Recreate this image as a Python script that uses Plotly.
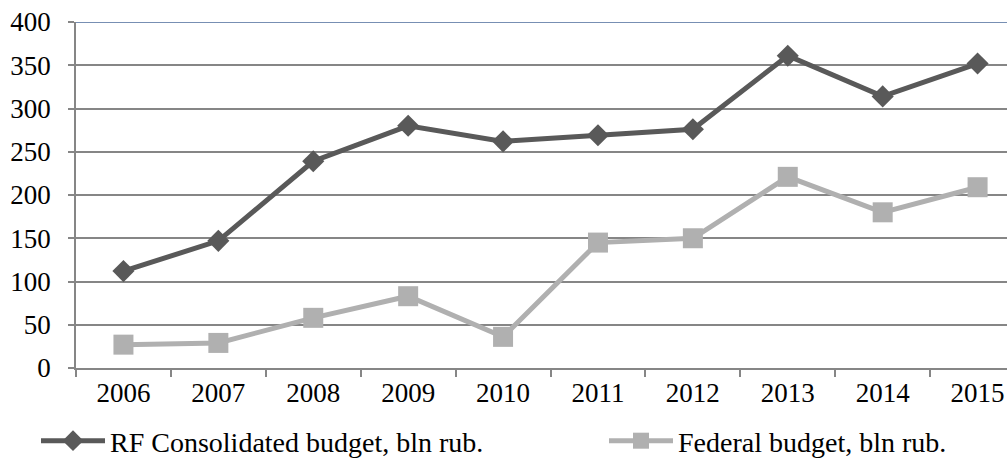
import plotly.graph_objects as go

years = ["2006", "2007", "2008", "2009", "2010", "2011", "2012", "2013", "2014", "2015"]
consolidated = [112, 147, 239, 280, 262, 269, 276, 361, 314, 352]
federal = [27, 29, 58, 83, 36, 145, 150, 221, 180, 209]
y_ticks = [0, 50, 100, 150, 200, 250, 300, 350, 400]

FONT = "Liberation Serif"

fig = go.Figure()
fig.add_trace(go.Scatter(
    x=years, y=consolidated, name="RF Consolidated budget, bln rub.",
    mode="lines+markers",
    line=dict(color="#595959", width=5),
    marker=dict(symbol="diamond", size=17, color="#595959"),
    legend="legend",
))
fig.add_trace(go.Scatter(
    x=years, y=federal, name="Federal budget, bln rub.",
    mode="lines+markers",
    line=dict(color="#b0b0b0", width=5),
    marker=dict(symbol="square", size=20, color="#b0b0b0"),
    legend="legend2",
))

fig.add_shape(type="line", xref="paper", yref="y", x0=0, x1=1, y0=400, y1=400,
              line=dict(color="#4a6a9a", width=1.5))

leg_common = dict(orientation="h", yanchor="middle", xanchor="left",
                  xref="container", yref="container", itemwidth=64,
                  bgcolor="rgba(0,0,0,0)",
                  font=dict(family=FONT, size=28, color="black"))

fig.update_layout(
    width=1007, height=459,
    margin=dict(l=76, r=0, t=22, b=91, autoexpand=False),
    paper_bgcolor="white", plot_bgcolor="white",
    font=dict(family=FONT, size=27, color="black"),
    showlegend=True,
    legend=dict(x=36 / 1007, y=(459 - 441) / 459, **leg_common),
    legend2=dict(x=604 / 1007, y=(459 - 441) / 459, **leg_common),
    xaxis=dict(type="category", range=[-0.5, 9.31], tickson="boundaries",
               showgrid=False, showline=True, linecolor="#868686", linewidth=1.5,
               ticks="outside", ticklen=7, tickcolor="#868686", tickwidth=1.5,
               zeroline=False, tickfont=dict(family=FONT, size=27, color="black")),
    yaxis=dict(range=[0, 400], tickvals=y_ticks, showgrid=True, gridcolor="#868686",
               gridwidth=1.5, showline=True, linecolor="#868686", linewidth=1.5,
               ticks="outside", ticklen=6, tickcolor="#868686", tickwidth=1.5,
               ticklabelstandoff=12,
               zeroline=False, tickfont=dict(family=FONT, size=27, color="black")),
)

fig.write_html("out.html", config={"displayModeBar": False},
               post_script="document.body.style.margin='0';")
